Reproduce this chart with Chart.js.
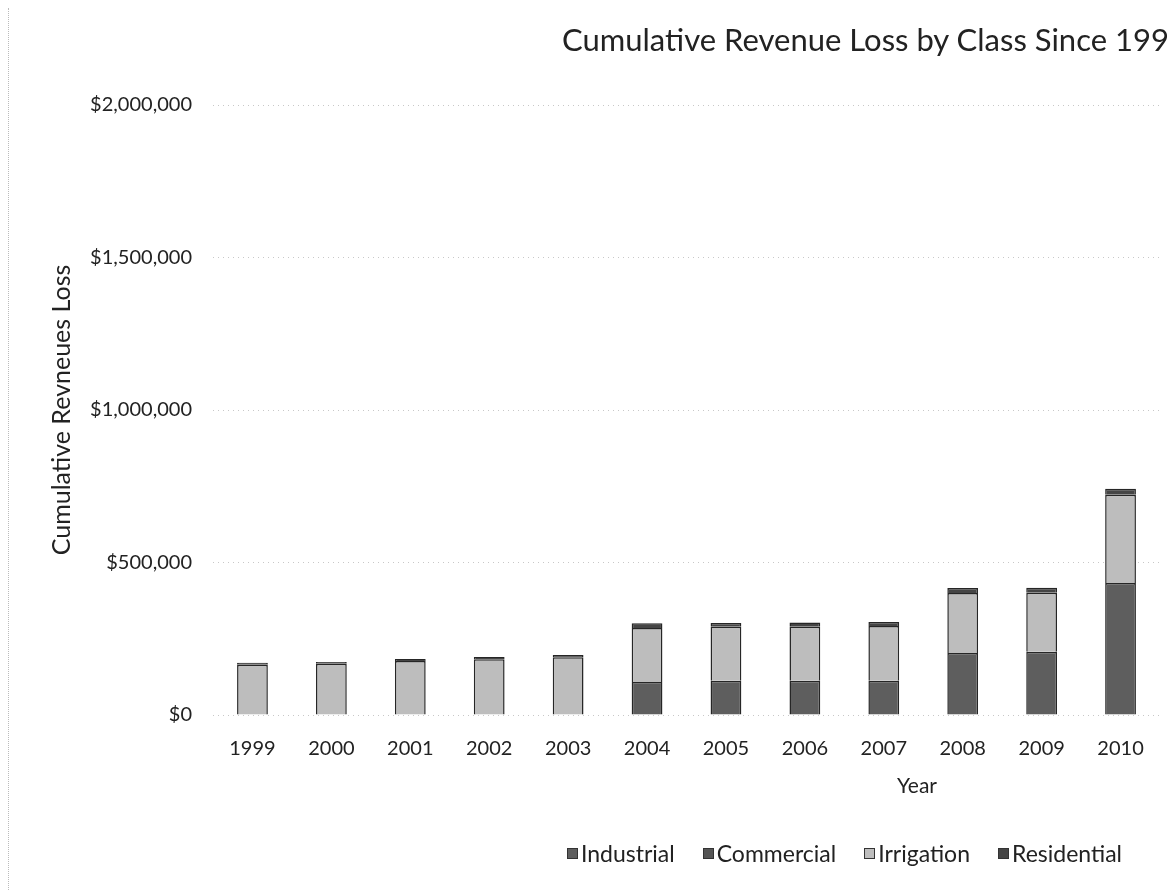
<!DOCTYPE html>
<html>
<head>
<meta charset="utf-8">
<script src="https://cdn.jsdelivr.net/npm/chart.js@4.4.1/dist/chart.umd.min.js"></script>
<style>
    html, body { margin: 0; padding: 0; background: #fff; overflow: hidden; }
    #wrap { position: relative; width: 1167px; height: 890px; overflow: hidden; }
    #wrap::before { content: ''; position: absolute; left: 8px; top: 8px; bottom: 0; border-left: 1px dotted #bbb; }
    #title { position: absolute; left: 562px; top: 20px; white-space: nowrap; font: 31px Lato, sans-serif; color: #222; }
    #xtitle { position: absolute; left: 897px; top: 772px; font: 21px Lato, sans-serif; color: #222; }
    #legend { position: absolute; right: 45px; top: 839px; display: flex; gap: 28px; font: 23px Lato, sans-serif; color: #222; }
    #legend span { display: flex; align-items: center; gap: 3px; white-space: nowrap; }
    #legend i { display: inline-block; width: 9px; height: 9px; border: 1px solid #333; }
</style>
</head>
<body>
<div id="wrap">
    <canvas id="myChart" width="1167" height="890"></canvas>
    <div id="title">Cumulative Revenue Loss by Class Since 1999</div>
    <div id="xtitle">Year</div>
    <div id="legend"></div>
</div>
<script>
// --- Data ---
const years = ['1999', '2000', '2001', '2002', '2003', '2004', '2005', '2006', '2007', '2008', '2009', '2010'];
const industrial  = [0, 0, 0, 0, 0, 108000, 112000, 112000, 112000, 203000, 207000, 433000];
const commercial  = [0, 0, 0, 0, 0, 0, 0, 0, 0, 0, 0, 0];
const irrigation  = [165000, 168000, 177000, 183000, 189000, 177000, 177000, 177000, 180000, 197000, 194000, 289000];
const residential = [6000, 6000, 7000, 7000, 8000, 16000, 13000, 14000, 13000, 16000, 16000, 20000];
const yTicks = [0, 500000, 1000000, 1500000, 2000000];

const FONT = 'Lato, sans-serif';

function money(v) {
    return '$' + v.toLocaleString('en-US');
}

const series = [
    { label: 'Industrial', data: industrial, backgroundColor: '#5e5e5e' },
    { label: 'Commercial', data: commercial, backgroundColor: '#555555' },
    { label: 'Irrigation', data: irrigation, backgroundColor: '#bdbdbd' },
    { label: 'Residential', data: residential, backgroundColor: '#454545' }
];

// html legend, so box/text spacing matches the original
const legendBox = document.getElementById('legend');
series.forEach(s => {
    const item = document.createElement('span');
    const sw = document.createElement('i');
    sw.style.background = s.backgroundColor;
    item.appendChild(sw);
    item.appendChild(document.createTextNode(s.label));
    legendBox.appendChild(item);
});

const ctx = document.getElementById('myChart').getContext('2d');
new Chart(ctx, {
    type: 'bar',
    data: {
        labels: years,
        datasets: series.map(s => ({ ...s, borderColor: '#262626' }))
    },
    options: {
        responsive: false,
        animation: false,
        datasets: {
            bar: { categoryPercentage: 1, barPercentage: 0.39, borderWidth: 1.5 }
        },
        layout: { padding: { top: 105, right: 7, bottom: 60, left: 0 } },
        plugins: {
            legend: { display: false },
            tooltip: { enabled: false }
        },
        scales: {
            x: {
                stacked: true,
                grid: { display: false },
                border: { display: false },
                ticks: { color: '#222', font: { family: FONT, size: 20 }, padding: 14, maxRotation: 0 },
                afterFit: (scale) => { scale.height = 115; }
            },
            y: {
                stacked: true,
                min: 0,
                max: 2000000,
                afterBuildTicks: (scale) => { scale.ticks = yTicks.map(v => ({ value: v })); },
                grid: { color: '#c8c8c8', drawTicks: false, lineWidth: 1 },
                border: { display: false, dash: [1, 4] },
                ticks: {
                    color: '#222',
                    font: { family: FONT, size: 20 },
                    padding: 21,
                    callback: (v) => money(v)
                },
                title: {
                    display: true,
                    text: 'Cumulative Revneues Loss',
                    color: '#222',
                    font: { family: FONT, size: 25 },
                    padding: { top: 47 }
                },
                afterFit: (scale) => { scale.width = 213; }
            }
        }
    }
});
</script>
</body>
</html>
